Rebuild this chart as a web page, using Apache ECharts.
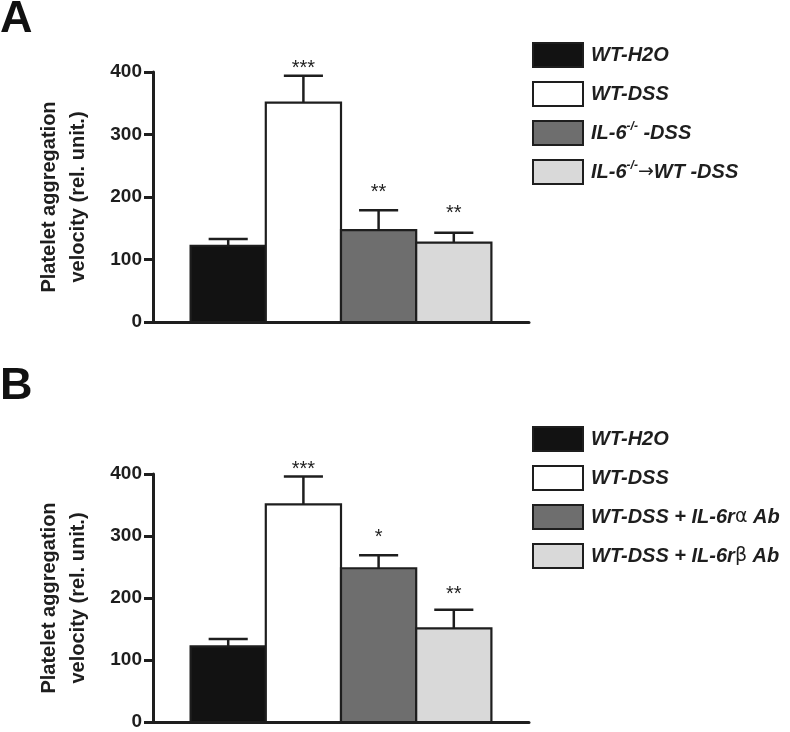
<!DOCTYPE html>
<html>
<head>
<meta charset="utf-8">
<script src="https://cdn.jsdelivr.net/npm/echarts@6/dist/echarts.min.js"></script>
<style>
  html, body { margin: 0; padding: 0; background: #fff; }
  #chart { width: 790px; height: 732px; }
</style>
</head>
<body>
<div id="chart"></div>
<script>
// ---------- data ----------
const groupsA = ['WT-H2O', 'WT-DSS', 'IL-6-/- -DSS', 'IL-6-/-->WT -DSS'];
const groupsB = ['WT-H2O', 'WT-DSS', 'WT-DSS + IL-6ra Ab', 'WT-DSS + IL-6rb Ab'];
const meanA = [122, 351, 147, 127];
const errTopA = [133, 394, 179, 143];
const sigA = ['', '***', '**', '**'];
const sigPosA = [null, 413, 216, 182];
const meanB = [122, 351, 248, 151];
const errTopB = [134, 396, 269, 181];
const sigB = ['', '***', '*', '**'];
const sigPosB = [null, 416, 305, 213];
const yTicks = [0, 100, 200, 300, 400];
const yAxisTitle = 'Platelet aggregation\nvelocity (rel. unit.)';

// rich labels for legend
const legendRich = {
  'WT-H2O': '{n|WT-H2O}',
  'WT-DSS': '{n|WT-DSS}',
  'IL-6-/- -DSS': '{n|IL-6}{sup|-/-}{n| -DSS}',
  'IL-6-/-->WT -DSS': '{n|IL-6}{sup|-/-}{g|\u2192}{n|WT -DSS}',
  'WT-DSS + IL-6ra Ab': '{n|WT-DSS + IL-6r}{g|\u03b1}{n| Ab}',
  'WT-DSS + IL-6rb Ab': '{n|WT-DSS + IL-6r}{g|\u03b2}{n| Ab}'
};

const fills = ['#121212', '#ffffff', '#6e6e6e', '#d9d9d9'];
const ink = '#1e1e1e';
const FONT = '"Liberation Sans", Arial, sans-serif';

function barRender(fill) {
  return function (params, api) {
    const x = api.value(0), y = api.value(1);
    const p0 = api.coord([x, 0]);
    const p1 = api.coord([x + 1, y]);
    return {
      type: 'rect',
      shape: { x: p0[0], y: p1[1], width: p1[0] - p0[0], height: p0[1] - p1[1] },
      style: { fill: fill, stroke: ink, lineWidth: 2.2 }
    };
  };
}

function errRender(params, api) {
  const i = api.value(0), m = api.value(1), t = api.value(2), s = api.value(3);
  const label = api.value(4);
  const c0 = api.coord([i + 0.5, m]);
  const c1 = api.coord([i + 0.5, t]);
  const l = api.coord([i + 0.24, t]);
  const r = api.coord([i + 0.76, t]);
  const children = [
    { type: 'line', shape: { x1: c0[0], y1: c0[1], x2: c1[0], y2: c1[1] }, style: { stroke: ink, lineWidth: 2.5 } },
    { type: 'line', shape: { x1: l[0], y1: l[1], x2: r[0], y2: r[1] }, style: { stroke: ink, lineWidth: 2.5 } }
  ];
  if (label && !isNaN(s)) {
    const sp = api.coord([i + 0.5, s]);
    children.push({
      type: 'text',
      style: { x: sp[0], y: sp[1] + 5, text: label, align: 'center', verticalAlign: 'middle',
               fill: ink, font: '20px ' + FONT }
    });
  }
  return { type: 'group', children: children };
}

function makeBars(names, means, axisIdx) {
  return names.map((n, i) => ({
    type: 'custom', name: n, xAxisIndex: axisIdx, yAxisIndex: axisIdx,
    renderItem: barRender(fills[i]),
    itemStyle: { color: fills[i], borderColor: ink, borderWidth: 2 },
    data: [[i, means[i]]],
    encode: { x: 0, y: 1 },
    silent: true
  }));
}

function makeErr(means, tops, sigs, sigPos, axisIdx) {
  return {
    type: 'custom', name: 'err' + axisIdx, xAxisIndex: axisIdx, yAxisIndex: axisIdx,
    renderItem: errRender, silent: true, z: 5,
    data: means.map((m, i) => [i, m, tops[i], sigPos[i] == null ? NaN : sigPos[i], sigs[i]]),
    encode: { x: 0, y: [1, 2] }
  };
}

function legendFor(names, top) {
  return {
    orient: 'vertical', left: 527, top: top,
    itemWidth: 50, itemHeight: 24, itemGap: 13,
    icon: 'rect', selectedMode: false,
    data: names.map((n, i) => ({ name: n, itemStyle: { color: fills[i], borderColor: ink, borderWidth: 2 } })),
    formatter: n => legendRich[n],
    textStyle: {
      padding: [0, 0, 0, 3],
      lineHeight: 24,
      rich: {
        n: { fontFamily: FONT, fontSize: 20, fontWeight: 'bold', fontStyle: 'italic', color: ink, lineHeight: 24 },
        sup: { fontFamily: FONT, fontSize: 12, fontWeight: 'bold', fontStyle: 'italic', color: ink, verticalAlign: 'top', lineHeight: 14 },
        g: { fontFamily: '"DejaVu Sans", ' + FONT, fontSize: 19, fontWeight: 'normal', color: ink, lineHeight: 24 }
      }
    }
  };
}

const yAxisCommon = {
  type: 'value', min: 0, max: 400, interval: 100,
  name: yAxisTitle, nameLocation: 'middle', nameRotate: 90, nameGap: 60,
  nameTextStyle: { fontFamily: FONT, fontSize: 20, fontWeight: 'bold', color: ink, lineHeight: 29, align: 'center' },
  axisLine: { show: true, onZero: false, lineStyle: { color: ink, width: 3 } },
  axisTick: { show: true, length: 9, lineStyle: { color: ink, width: 3 } },
  axisLabel: { margin: 11, fontFamily: FONT, fontSize: 19, fontWeight: 'bold', color: ink,
               formatter: v => (yTicks.indexOf(v) >= 0 ? String(v) : '') },
  splitLine: { show: false }
};
const xAxisCommon = {
  type: 'value', min: -0.5, max: 4.5,
  axisLine: { show: true, onZero: false, lineStyle: { color: ink, width: 3 } },
  axisTick: { show: false }, axisLabel: { show: false }, splitLine: { show: false }
};

const chart = echarts.init(document.getElementById('chart'), null, { renderer: 'canvas' });
chart.setOption({
  animation: false,
  backgroundColor: '#ffffff',
  grid: [
    { left: 153, top: 72, width: 376, height: 250 },
    { left: 153, top: 474, width: 376, height: 248 }
  ],
  xAxis: [Object.assign({ gridIndex: 0 }, xAxisCommon), Object.assign({ gridIndex: 1 }, xAxisCommon)],
  yAxis: [Object.assign({ gridIndex: 0 }, yAxisCommon), Object.assign({ gridIndex: 1 }, yAxisCommon)],
  legend: [legendFor(groupsA, 37), legendFor(groupsB, 421)],
  graphic: [
    { type: 'text', left: 0, top: -3, style: { text: 'A', font: 'bold 45px ' + FONT, fill: '#111' } },
    { type: 'text', left: 0, top: 364, style: { text: 'B', font: 'bold 45px ' + FONT, fill: '#111' } }
  ],
  series: [].concat(
    makeBars(groupsA, meanA, 0),
    [makeErr(meanA, errTopA, sigA, sigPosA, 0)],
    makeBars(groupsB, meanB, 1),
    [makeErr(meanB, errTopB, sigB, sigPosB, 1)]
  )
});
</script>
</body>
</html>
